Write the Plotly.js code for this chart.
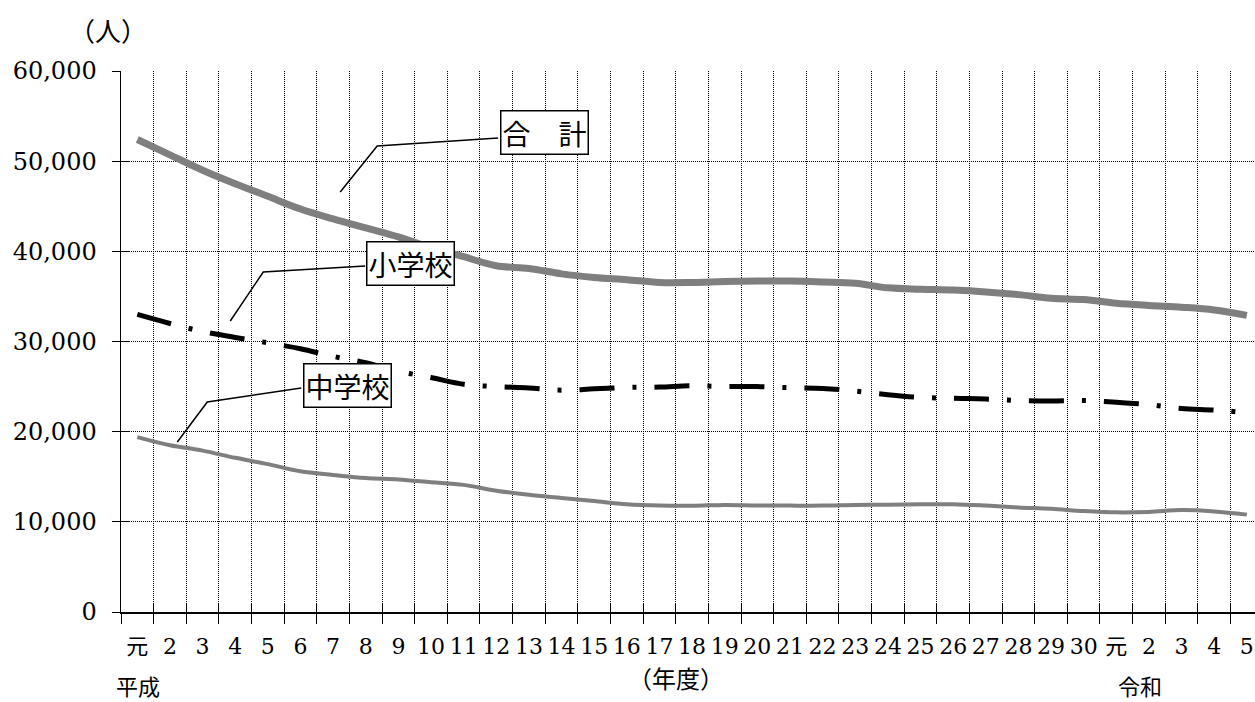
<!DOCTYPE html>
<html>
<head>
<meta charset="utf-8">
<script src="https://cdn.plot.ly/plotly-3.0.1.min.js"></script>
<style>
html,body{margin:0;padding:0;background:#fff;overflow:hidden;}
#chart{width:1255px;height:702px;}
</style>
</head>
<body>
<div id="chart"></div>
<script>
// Categories (fiscal years: 平成元 .. 平成30, 令和元 .. 令和5)
const categories = ['平成元','平成2','平成3','平成4','平成5','平成6','平成7','平成8','平成9','平成10',
  '平成11','平成12','平成13','平成14','平成15','平成16','平成17','平成18','平成19','平成20',
  '平成21','平成22','平成23','平成24','平成25','平成26','平成27','平成28','平成29','平成30',
  '令和元','令和2','令和3','令和4','令和5'];
const tickLabels = ['元','2','3','4','5','6','7','8','9','10',
  '11','12','13','14','15','16','17','18','19','20',
  '21','22','23','24','25','26','27','28','29','30',
  '元','2','3','4','5'];
// Series (人)
const totalValues = [52400,50700,49000,47500,46100,44700,43600,42600,41600,40400,
  39400,38400,38100,37500,37100,36850,36550,36550,36650,36700,
  36700,36600,36450,35950,35800,35700,35500,35200,34800,34650,
  34250,34000,33800,33500,32900];
const elementaryValues = [33000,32000,31100,30450,29850,29200,28350,27650,26700,26000,
  25250,25000,24850,24600,24750,24900,24950,25100,25000,25000,
  24880,24800,24500,24100,23800,23700,23620,23450,23400,23450,
  23250,23000,22570,22400,22100];
const juniorValues = [19400,18500,17900,17100,16400,15600,15200,14850,14700,14400,
  14100,13450,13000,12650,12300,11950,11800,11780,11880,11820,
  11800,11800,11880,11900,11950,11950,11800,11600,11450,11200,
  11050,11100,11300,11150,10800];
const yTicks = [0,10000,20000,30000,40000,50000,60000];

const serif = "DejaVu Serif, Liberation Serif, Noto Sans CJK JP, serif";
const jp = "Noto Sans CJK JP, sans-serif";

// pixel helpers for decorative callouts
const px2x = px => (px - 137) / 32.65;
const py2y = py => (612 - py) / 541 * 60000;

const traces = [
  {x: categories, y: juniorValues, type:'scatter', mode:'lines',
   line:{color:'#7f7f7f', width:4, shape:'spline', smoothing:1}, hoverinfo:'skip', showlegend:false},
  {x: categories, y: elementaryValues, type:'scatter', mode:'lines',
   line:{color:'#000', width:5, shape:'spline', smoothing:1, dash:'35px,18px,4px,18px'}, hoverinfo:'skip', showlegend:false},
  {x: categories, y: totalValues, type:'scatter', mode:'lines',
   line:{color:'#7f7f7f', width:7, shape:'spline', smoothing:1}, hoverinfo:'skip', showlegend:false},
  // invisible trace to create overlay axes used for inner tick halves
  {x: categories, y: totalValues, xaxis:'x2', yaxis:'y2', type:'scatter', mode:'lines',
   line:{width:0}, opacity:0, hoverinfo:'skip', showlegend:false}
];

const xRange = [-0.5, 34.25];
const callouts = [
  {text:'合　計', cx:544, cy:132, pts:[[340,192],[377,146],[498,138]]},
  {text:'小学校', cx:410.5, cy:263.5, pts:[[230,321],[263,272],[365,266]]},
  {text:'中学校', cx:347, cy:385.5, pts:[[177,442],[207,402],[301,388]]}
];

const shapes = callouts.map(c => ({
  type:'path', xref:'x', yref:'y',
  path: c.pts.map((p,i)=> (i?'L':'M') + px2x(p[0]) + ',' + py2y(p[1])).join(' '),
  line:{color:'#000', width:1.5}
}));

const annotations = callouts.map(c => ({
  text:c.text, x:px2x(c.cx), y:py2y(c.cy), xref:'x', yref:'y', showarrow:false,
  font:{family:jp, size:28, color:'#000'}, bgcolor:'#fff', bordercolor:'#000', borderwidth:1.5, borderpad:1
}));
annotations.push(
  {text:'（人）', xref:'paper', yref:'paper', x:(108-121)/1134, y:(612-30)/541, xanchor:'center', yanchor:'middle', showarrow:false, font:{family:jp, size:26, color:'#000'}},
  {text:'（年度）', xref:'paper', yref:'paper', x:(676-121)/1134, y:-(677-612)/541, xanchor:'center', yanchor:'middle', showarrow:false, font:{family:jp, size:24, color:'#000'}},
  {text:'平成', xref:'paper', yref:'paper', x:(138-121)/1134, y:-(685-612)/541, xanchor:'center', yanchor:'middle', showarrow:false, font:{family:jp, size:22, color:'#000'}},
  {text:'令和', xref:'paper', yref:'paper', x:(1140-121)/1134, y:-(685-612)/541, xanchor:'center', yanchor:'middle', showarrow:false, font:{family:jp, size:22, color:'#000'}}
);

const layout = {
  width:1255, height:702,
  margin:{l:121, r:0, t:71, b:90, pad:0},
  paper_bgcolor:'#fff', plot_bgcolor:'#fff',
  showlegend:false,
  xaxis:{type:'category', range:xRange, tickmode:'array', tickvals:categories, ticktext:tickLabels,
    tickson:'boundaries', ticks:'outside', ticklen:10, tickwidth:1, tickcolor:'#000', tickangle:0,
    showgrid:true, gridcolor:'#000', gridwidth:1, griddash:'1px,1px',
    showline:true, linecolor:'#000', linewidth:1.5, zeroline:false,
    tickfont:{family:serif, size:22, color:'#000'}, ticklabelstandoff:14, fixedrange:true},
  yaxis:{range:[0,60000], tickmode:'array', tickvals:yTicks, tickformat:',d',
    ticks:'outside', ticklen:8, tickwidth:1, tickcolor:'#000',
    showgrid:true, gridcolor:'#000', gridwidth:1, griddash:'1px,1px',
    showline:true, linecolor:'#000', linewidth:1.5, zeroline:false,
    tickfont:{family:serif, size:24, color:'#000'}, ticklabelstandoff:10, fixedrange:true},
  xaxis2:{type:'category', overlaying:'x', anchor:'y2', range:xRange, tickmode:'array', tickvals:categories,
    tickson:'boundaries', ticks:'inside', ticklen:8, tickwidth:1, tickcolor:'#000',
    showticklabels:false, showgrid:false, showline:false, zeroline:false, fixedrange:true},
  yaxis2:{overlaying:'y', anchor:'x2', range:[0,60000], tickmode:'array', tickvals:yTicks,
    ticks:'inside', ticklen:9, tickwidth:1, tickcolor:'#000',
    showticklabels:false, showgrid:false, showline:false, zeroline:false, fixedrange:true},
  shapes:shapes,
  annotations:annotations
};

Plotly.newPlot('chart', traces, layout, {displayModeBar:false, staticPlot:true});
</script>
</body>
</html>
